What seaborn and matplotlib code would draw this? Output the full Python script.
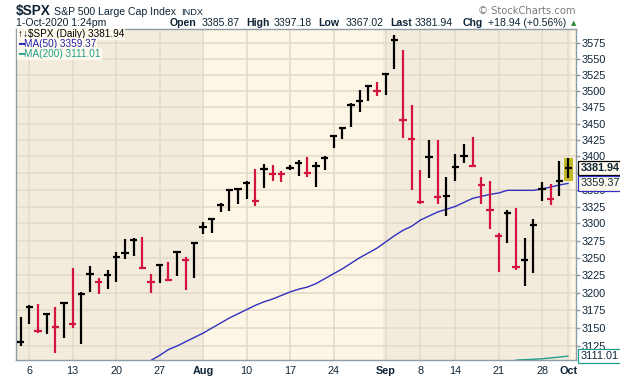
import numpy as np
import pandas as pd
import matplotlib
matplotlib.use('Agg')
import matplotlib.pyplot as plt
import matplotlib.transforms as mtransforms
from matplotlib.patches import Rectangle
from matplotlib.ticker import FixedLocator, NullLocator
import seaborn as sns

# trading days 2-Jul-2020 .. 1-Oct-2020 (Jul 3 and Sep 7 closed)
days = pd.bdate_range('2020-07-02', '2020-10-01')
days = days.drop(pd.to_datetime(['2020-07-03', '2020-09-07']))

highs = [3165.81, 3182.59, 3184.15, 3169.94, 3179.78, 3186.82, 3235.32, 3200.95, 3238.28, 3220.39,
         3233.13, 3258.61, 3277.29, 3279.32, 3280.76, 3227.26, 3241.43, 3243.72, 3260.05, 3250.92,
         3272.00, 3302.73, 3306.84, 3330.77, 3351.03, 3352.54, 3363.29, 3381.01, 3387.89, 3387.24,
         3378.51, 3387.59, 3395.06, 3399.54, 3390.80, 3399.96, 3432.09, 3444.21, 3481.07, 3501.38,
         3509.23, 3514.77, 3528.03, 3588.11, 3564.85, 3479.15, 3379.97, 3424.77, 3425.55, 3368.95,
         3402.93, 3419.48, 3428.92, 3369.10, 3362.27, 3285.57, 3320.31, 3323.35, 3278.70, 3306.88,
         3360.74, 3357.92, 3393.56, 3397.18]
lows = [3124.52, 3155.29, 3142.93, 3141.16, 3115.70, 3136.22, 3149.43, 3127.66, 3200.76, 3198.59,
        3205.65, 3215.16, 3247.77, 3253.10, 3234.12, 3200.05, 3214.25, 3216.17, 3223.27, 3204.13,
        3220.26, 3284.53, 3286.37, 3317.37, 3318.14, 3328.72, 3335.44, 3326.44, 3352.26, 3363.35,
        3361.64, 3379.22, 3370.15, 3369.66, 3354.69, 3379.31, 3413.13, 3425.84, 3444.15, 3468.35,
        3484.32, 3493.25, 3494.60, 3535.23, 3427.41, 3349.63, 3329.27, 3366.84, 3329.25, 3310.47,
        3363.56, 3389.25, 3384.45, 3328.82, 3292.40, 3229.10, 3270.95, 3232.57, 3209.45, 3228.44,
        3332.91, 3327.54, 3340.47, 3367.02]
closes = [3130.01, 3179.72, 3145.32, 3169.94, 3152.05, 3185.04, 3155.22, 3197.52, 3226.56, 3215.57,
          3224.73, 3251.84, 3257.30, 3276.02, 3235.66, 3215.63, 3239.41, 3218.44, 3258.44, 3246.22,
          3271.12, 3294.61, 3306.51, 3327.77, 3349.16, 3351.28, 3360.47, 3333.69, 3380.35, 3373.43,
          3372.85, 3381.99, 3389.78, 3374.85, 3385.51, 3397.16, 3431.28, 3443.62, 3478.73, 3484.55,
          3508.01, 3500.31, 3526.65, 3580.84, 3455.06, 3426.96, 3331.84, 3398.96, 3339.19, 3340.97,
          3383.54, 3401.20, 3385.49, 3357.01, 3319.47, 3281.06, 3315.57, 3236.92, 3246.59, 3298.46,
          3351.60, 3335.47, 3363.00, 3381.94]
prev_close = 3115.86

# MA(50), from 24-Jul onwards
ma50 = [3105, 3112, 3120, 3125, 3131, 3137, 3143, 3150, 3157, 3164,
        3170, 3176, 3182, 3187, 3191, 3196, 3201, 3205, 3208, 3213,
        3220, 3227, 3234, 3242, 3250, 3257, 3264, 3273, 3282, 3290,
        3296, 3305, 3311, 3317, 3321, 3325, 3331, 3337, 3340, 3343,
        3345, 3349, 3349, 3349, 3349, 3351, 3354, 3357, 3359.37]
# MA(200), visible only at the far right
ma200 = [3105.5, 3106.0, 3106.6, 3107.3, 3108.5, 3109.7, 3111.01]

yticks = [3125, 3150, 3175, 3200, 3225, 3250, 3275, 3300, 3325, 3350,
          3375, 3400, 3425, 3450, 3475, 3500, 3525, 3550, 3575]
xtick_dates = ['2020-07-06', '2020-07-13', '2020-07-20', '2020-07-27', '2020-08-03', '2020-08-10',
               '2020-08-17', '2020-08-24', '2020-09-01', '2020-09-08', '2020-09-14', '2020-09-21',
               '2020-09-28', '2020-10-01']
xtick_labels = ['6', '13', '20', '27', 'Aug', '10', '17', '24', 'Sep', '8', '14', '21', '28', 'Oct']

sns.set_style('white')
plt.rcParams['font.family'] = ['Liberation Sans', 'DejaVu Sans']

txt = '#0f2537'
dark_bg = '#f3ecdc'
light_bg = '#fdf6e4'
grid_c = '#e2dac9'
red = '#d4133f'

fig = plt.figure(figsize=(6.2, 3.76), dpi=100)
ax = fig.add_axes([16 / 620, 16 / 376, 560 / 620, 331.3 / 376])
ax.set_facecolor(light_bg)

x = np.arange(len(days))
pos = {d: i for i, d in enumerate(days)}

# month shading (Jul, Sep darker)
ax.axvspan(-1, pos[pd.Timestamp('2020-08-03')] - 0.05, color=dark_bg, zorder=0, lw=0)
ax.axvspan(pos[pd.Timestamp('2020-09-01')] - 0.33, pos[pd.Timestamp('2020-10-01')] + 0.3,
           color=dark_bg, zorder=0, lw=0)

# highlight last bar
ax.add_patch(Rectangle((x[-1] - 0.53, lows[-1] - 4), 1.06, highs[-1] - lows[-1] + 5,
                       facecolor='#c2b927', edgecolor='none', zorder=2))

prev = np.array([prev_close] + closes[:-1])
cols = np.where(np.array(closes) >= prev, 'black', red)
ax.vlines(x, lows, highs, colors=cols, lw=1.6, zorder=4)
ax.hlines(closes, x - 0.42, x + 0.42, colors=cols, lw=1.6, zorder=4)

ma_df = pd.DataFrame({'x': x[len(x) - len(ma50):], 'ma50': ma50})
sns.lineplot(data=ma_df, x='x', y='ma50', color='#2f2fc0', lw=1, ax=ax, zorder=3)
ma2_df = pd.DataFrame({'x': x[len(x) - len(ma200):], 'ma200': ma200})
sns.lineplot(data=ma2_df, x='x', y='ma200', color='#22a08e', lw=1, ax=ax, zorder=3)

ax.set_yscale('log')
ax.set_ylim(3105.6, 3598.6)
ax.set_xlim(-0.53, 63.9)
ax.yaxis.tick_right()
ax.yaxis.set_major_locator(FixedLocator(yticks))
ax.yaxis.set_minor_locator(NullLocator())
# 3375 sits under the price tag, as in the original
ax.set_yticklabels(['' if v == 3375 else str(v) for v in yticks])
xt = [pos[pd.Timestamp(d)] for d in xtick_dates]
ax.set_xticks(xt)
ax.set_xticklabels(xtick_labels)
ax.set_xticks(x, minor=True)
for lab in ax.get_xticklabels():
    if lab.get_text() in ('Aug', 'Sep', 'Oct'):
        lab.set_fontweight('bold')
ax.set_xlabel('')
ax.set_ylabel('')
ax.tick_params(axis='both', which='major', labelsize=7.8, labelcolor=txt, color='#8d9ca5',
               length=3, width=1, pad=1)
ax.tick_params(axis='x', which='minor', length=2, color='#9aa7ae', width=0.8)
ax.grid(True, which='major', color=grid_c, lw=1.1)
ax.set_axisbelow(True)
for s in ax.spines.values():
    s.set_color('#8d9ca5')
    s.set_linewidth(1)

# value tags on the right
tr = mtransforms.blended_transform_factory(ax.transAxes, ax.transData)
ax.text(1.008, closes[-1], '%.2f' % closes[-1], transform=tr, ha='left', va='center',
        fontsize=7.8, fontweight='bold', color=txt, zorder=6,
        bbox=dict(boxstyle='square,pad=0.2', fc='#fdf9ec', ec='black', lw=0.9))
ax.text(1.008, ma50[-1], '%.2f' % ma50[-1], transform=tr, ha='left', va='center',
        fontsize=7.8, color=txt, zorder=6,
        bbox=dict(boxstyle='square,pad=0.2', fc='#fdf9ec', ec='#2f2fc0', lw=0.9))
ax.text(1.008, ma200[-1], '%.2f' % ma200[-1], transform=tr, ha='left', va='center',
        fontsize=7.8, color=txt, zorder=6,
        bbox=dict(boxstyle='square,pad=0.2', fc='white', ec='#22a08e', lw=0.9))

# legend rows
leg_bg = dict(boxstyle='square,pad=0.1', fc='#fdf9ec', ec='none')
fig.text(18 / 620, 1 - 34 / 376, '\u2191\u2193$SPX (Daily) %.2f' % closes[-1], fontsize=7.2,
         color='black', va='center', bbox=leg_bg)
fig.text(18 / 620, 1 - 44.3 / 376, '\u2501MA(50) %.2f' % ma50[-1], fontsize=7.2,
         color='#2020b0', va='center', family=['Liberation Sans', 'DejaVu Sans'], bbox=leg_bg)
fig.text(18 / 620, 1 - 54.3 / 376, '\u2501MA(200) %.2f' % ma200[-1], fontsize=7.2,
         color='#1f9e8c', va='center', family=['Liberation Sans', 'DejaVu Sans'], bbox=leg_bg)

# header
def ftext(px, py, s, **kw):
    kw.setdefault('color', txt)
    fig.text(px / 620, 1 - py / 376, s, va='baseline', **kw)

ftext(16, 15, '$SPX', fontsize=9.8, fontweight='bold')
ftext(54, 15, 'S&P 500 Large Cap Index', fontsize=7.6)
ftext(181.5, 15, 'INDX', fontsize=6.7)
ftext(16, 26.5, '1-Oct-2020 1:24pm', fontsize=7.6)
hdr = [(170, 'Open', True), (202, '3385.87', False), (246.7, 'High', True), (274, '3397.18', False),
       (318.3, 'Low', True), (345.7, '3367.02', False), (390.7, 'Last', True), (415, '3381.94', False),
       (462.7, 'Chg', True), (487.7, '+18.94 (+0.56%)', False)]
for px, s, b in hdr:
    ftext(px, 26.5, s, fontsize=7.6, fontweight='bold' if b else 'normal')
ftext(573.5, 25.5, '\u25b2', fontsize=5, color='#2e8b3a', ha='center', family=['DejaVu Sans'])
ftext(576, 14, '\u00a9 StockCharts.com', fontsize=7.2, color='#7a7a7a', ha='right',
      family=['DejaVu Sans'])

fig.savefig('out.png', dpi=100, facecolor='white')
